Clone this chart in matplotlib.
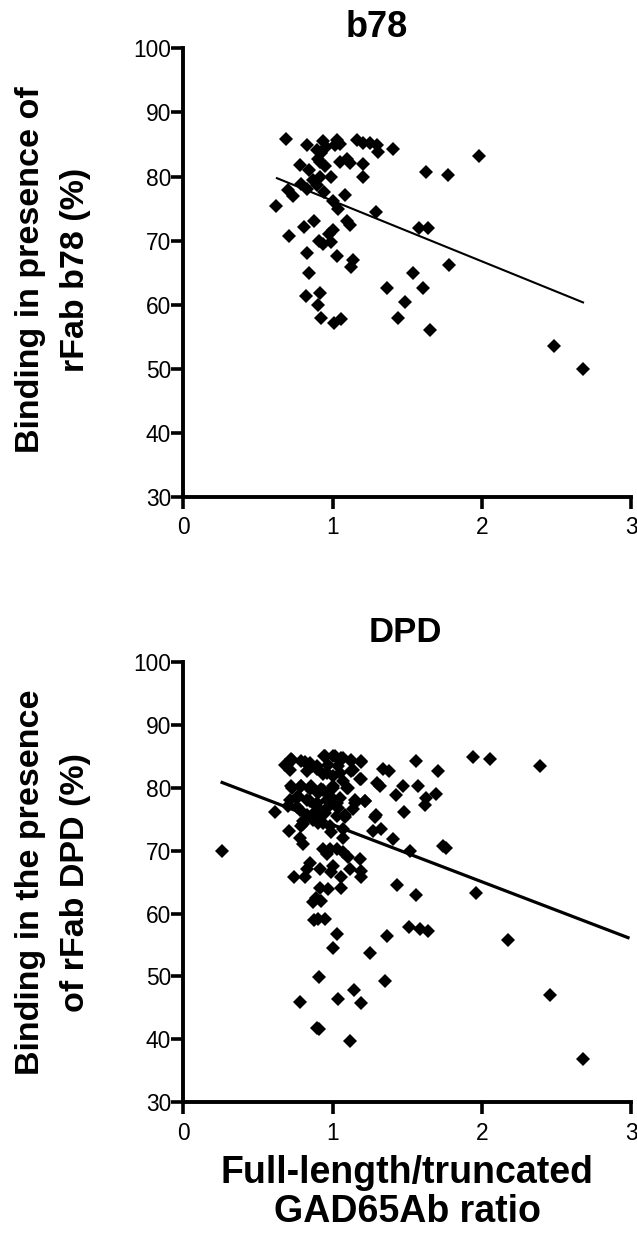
import matplotlib
matplotlib.use("Agg")
import matplotlib.pyplot as plt
import numpy as np

plt.rcParams['font.family'] = ['Liberation Sans', 'DejaVu Sans']

# ---------------- data: panel b78 ----------------
b78_ratio = [0.687, 0.830, 0.938, 0.893, 1.027, 1.049, 1.016, 1.161, 1.205, 1.250,
             1.295, 1.306, 1.402, 1.982, 0.781, 0.904, 0.915, 0.949, 1.049, 1.094,
             1.116, 1.201, 0.844, 1.629, 1.775, 0.993, 1.201, 0.915, 0.871, 0.792,
             0.826, 0.703, 0.893, 0.737, 0.942, 1.083, 0.621, 1.004, 1.038, 1.290,
             0.875, 0.810, 1.094, 1.116, 0.710, 1.004, 0.978, 0.908, 0.938, 0.989,
             1.580, 1.641, 0.830, 1.033, 1.138, 1.121, 0.844, 1.781, 1.536, 1.362,
             1.603, 0.915, 0.821, 1.484, 0.900, 0.926, 1.009, 1.056, 1.440, 1.656,
             2.482, 2.679, 0.926, 0.955]
b78_binding = [85.9, 84.9, 85.5, 84.1, 85.7, 85.0, 84.9, 85.7, 85.2, 85.2,
               84.9, 83.9, 84.3, 83.2, 81.8, 82.8, 82.3, 81.6, 82.2, 82.8,
               82.1, 81.9, 81.0, 80.7, 80.3, 80.0, 80.0, 80.0, 79.5, 78.9,
               78.0, 77.9, 78.7, 76.9, 77.6, 77.1, 75.4, 76.2, 75.0, 74.4,
               73.0, 72.1, 73.0, 72.5, 70.7, 71.7, 71.1, 70.0, 69.5, 69.8,
               71.9, 71.9, 68.0, 67.6, 67.0, 65.9, 65.0, 66.2, 65.0, 62.6,
               62.6, 61.9, 61.3, 60.4, 59.9, 57.9, 57.1, 57.7, 57.9, 56.0,
               53.6, 49.9, 83.6, 84.6]
b78_fit_slope = -9.45
b78_fit_intercept = 85.67
b78_fit_range = [0.621, 2.685]

# ---------------- data: panel DPD ----------------
dpd_ratio = [0.257, 0.614, 1.558, 1.942, 2.058, 2.393, 1.708, 1.339, 1.379, 1.188,
             1.295, 1.317, 1.473, 1.574, 1.424, 1.696, 1.625, 1.618, 1.480, 1.288,
             1.217, 1.150, 1.138, 1.105, 1.134, 1.188, 1.272, 1.328, 1.402, 1.518,
             1.737, 1.763, 1.429, 1.562, 1.960, 1.513, 1.589, 1.641, 1.362, 2.176,
             1.027, 1.004, 1.250, 0.908, 1.350, 1.145, 0.781, 1.038, 1.190, 2.460,
             0.893, 0.911, 1.116, 2.677,
             0.710, 0.781, 0.804, 0.989, 1.067, 1.071, 0.938, 0.982, 1.027, 0.960,
             1.071, 1.105, 1.183, 0.848, 0.826, 0.915, 1.004, 0.987, 1.116, 1.194,
             0.741, 0.815, 1.060, 1.194, 0.915, 0.971, 1.060, 0.888, 0.866, 0.926,
             0.875, 0.904, 0.949,
             0.681, 0.725, 0.792, 0.848, 0.893, 0.826, 0.942, 1.004, 1.060, 1.127,
             0.971, 1.038, 0.714, 0.938, 1.004, 1.071, 0.725, 0.792, 0.859, 0.938,
             1.004, 0.904, 0.982, 1.049, 0.714, 0.770, 0.848, 1.016, 0.759, 0.893,
             0.960, 1.038, 0.826, 0.915, 1.083, 0.804, 0.938, 0.870, 0.792,
             0.726, 0.694, 0.815, 0.860, 0.949, 1.016, 1.071, 1.127, 1.194, 0.893,
             0.960, 1.049, 1.127, 1.183, 0.726, 0.792, 0.848, 0.926, 1.004, 1.094,
             0.759, 0.826, 0.893, 0.960, 1.027, 1.150, 1.217, 0.703, 0.781, 0.870,
             0.949, 1.027, 1.083, 0.804, 0.904, 0.982, 1.284]
dpd_binding = [69.9, 76.1, 84.2, 84.8, 84.6, 83.5, 82.6, 83.0, 82.6, 81.3,
               80.8, 80.2, 80.2, 80.3, 78.9, 79.0, 78.4, 77.3, 76.1, 75.6,
               77.9, 77.6, 76.6, 79.9, 82.8, 84.1, 73.1, 73.4, 71.8, 69.9,
               70.8, 70.4, 64.6, 63.0, 63.3, 57.9, 57.5, 57.2, 56.5, 55.8,
               56.8, 54.5, 53.8, 49.9, 49.3, 47.9, 46.0, 46.4, 45.8, 47.1,
               41.8, 41.7, 39.8, 36.9,
               73.1, 72.0, 71.1, 72.9, 73.4, 72.0, 70.3, 70.2, 70.3, 69.4,
               69.7, 68.9, 68.7, 68.1, 67.0, 67.0, 67.5, 66.6, 67.0, 66.8,
               65.8, 65.8, 65.8, 65.8, 64.0, 63.9, 64.0, 62.5, 61.8, 62.0,
               59.0, 59.1, 59.2,
               83.6, 84.5, 84.2, 83.9, 83.5, 82.6, 85.0, 85.0, 84.7, 84.4,
               83.6, 83.4, 82.8, 82.1, 81.8, 81.0, 80.2, 80.2, 80.2, 79.7,
               79.9, 79.2, 78.6, 78.4, 78.1, 78.6, 77.8, 77.6, 77.0, 77.0,
               76.8, 76.8, 75.7, 75.7, 75.7, 74.7, 74.4, 74.9, 73.9,
               84.4, 83.6, 84.1, 83.4, 85.0, 85.0, 84.7, 84.2, 84.2, 82.9,
               82.4, 82.4, 82.7, 81.4, 80.0, 80.3, 79.8, 79.8, 80.3, 80.0,
               78.4, 78.1, 77.6, 78.1, 77.6, 78.1, 77.9, 77.1, 76.5, 75.8,
               76.0, 75.5, 75.3, 74.2, 74.4, 73.9, 75.3]
dpd_fit_slope = -9.06
dpd_fit_intercept = 83.17
dpd_fit_range = [0.25, 2.99]

x_ticks = [0, 1, 2, 3]
y_ticks = [30, 40, 50, 60, 70, 80, 90, 100]

# ---------------- figure ----------------
W, H = 637, 1237
fig = plt.figure(figsize=(W / 100, H / 100), dpi=100)


def px_axes(left, top, right, bottom):
    return fig.add_axes([left / W, 1 - bottom / H, (right - left) / W, (bottom - top) / H])


ax1 = px_axes(183.3, 48.3, 631, 497)
ax2 = px_axes(183.3, 661.7, 631, 1102.4)


def style(ax):
    ax.set_xlim(0, 3)
    ax.set_ylim(30, 100)
    ax.set_xticks(x_ticks)
    ax.set_yticks(y_ticks)
    for s in ['top', 'right']:
        ax.spines[s].set_visible(False)
    for s in ['left', 'bottom']:
        ax.spines[s].set_linewidth(2.8)
        ax.spines[s].set_capstyle('projecting')
    ax.tick_params(axis='both', direction='out', length=8.3, width=2.6,
                   labelsize=16.4, colors='black')
    ax.tick_params(axis='y', pad=0.5)
    ax.tick_params(axis='x', pad=5.5)


def panel(ax, xs, ys, slope, intercept, xr, lw):
    ax.plot(xs, ys, linestyle='none', marker='D', ms=7.2, color='black',
            markeredgewidth=0, clip_on=False)
    fx = np.array(xr)
    ax.plot(fx, slope * fx + intercept, color='black', lw=lw, solid_capstyle='butt')
    style(ax)


panel(ax1, b78_ratio, b78_binding, b78_fit_slope, b78_fit_intercept, b78_fit_range, 1.5)
panel(ax2, dpd_ratio, dpd_binding, dpd_fit_slope, dpd_fit_intercept, dpd_fit_range, 2.3)

# titles
fig.text(376.7 / W, 1 - 37 / H, 'b78', ha='center', va='baseline',
         fontsize=26, fontweight='bold')
fig.text(405 / W, 1 - 642 / H, 'DPD', ha='center', va='baseline',
         fontsize=25, fontweight='bold')

# y labels
fig.text(53 / W, 1 - 270 / H, 'Binding in presence of\nrFab b78 (%)', rotation=90,
         rotation_mode='anchor', ha='center', va='center', fontsize=24.5,
         fontweight='bold', linespacing=1.55)
fig.text(53 / W, 1 - 882 / H, 'Binding in the presence\nof rFab DPD (%)', rotation=90,
         rotation_mode='anchor', ha='center', va='center', fontsize=24.5,
         fontweight='bold', linespacing=1.55)

# x label
fig.text(407 / W, 1 - 1222 / H, 'Full-length/truncated\nGAD65Ab ratio', ha='center',
         va='baseline', fontsize=27, fontweight='bold', linespacing=1.1)

fig.savefig('out.png', dpi=100, facecolor='white')
